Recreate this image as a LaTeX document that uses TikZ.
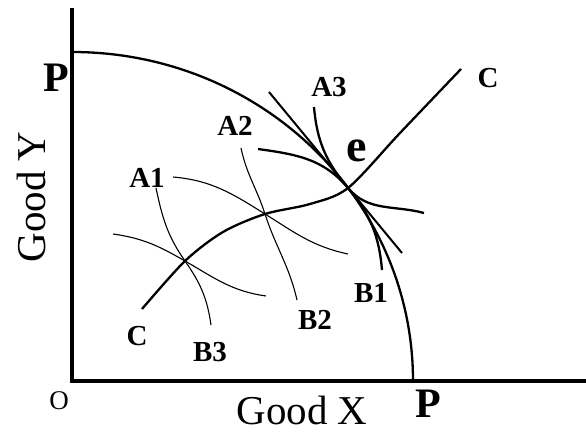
\documentclass[tikz,border=0pt]{standalone}
\usepackage{fontspec}
\setmainfont{Liberation Serif}

\begin{document}
\begin{tikzpicture}[x=1pt, y=1pt,
  axis/.style={line width=3.4pt},
  thickcurve/.style={line width=2.3pt},
  thincurve/.style={line width=1.1pt},
  lab/.style={font=\fontsize{29}{29}\selectfont\bfseries, anchor=base, inner sep=0pt},
  biglab/.style={font=\fontsize{42}{42}\selectfont\bfseries, anchor=base, inner sep=0pt},
  axlab/.style={font=\fontsize{41}{41}\selectfont, anchor=base, inner sep=0pt}]
  \useasboundingbox (0,0) rectangle (586,435);
  \coordinate (O) at (72,54);
  \coordinate (ytop) at (72,427);
  \coordinate (xend) at (586,54);
  \coordinate (e) at (348,247);
  \coordinate (m2) at (265,221);
  \coordinate (m1) at (185,174);
  \draw[axis] (ytop) -- (O) -- (xend);
  % production possibility frontier
  \draw[thickcurve] (72,383) arc[start angle=90, end angle=0, x radius=341, y radius=329];
  % price line at e
  \draw[line width=2pt] (269,343) -- (402,182);
  % isoquants
  \draw[thickcurve] (314,328) to[out=-85, in=130] (e) to[out=-50, in=165] (424,222);
  \draw[thickcurve] (258,286) to[out=-8, in=130] (e) to[out=-50, in=95] (382,165);
  \draw[thincurve] (241,287) to[out=-78, in=108] (m2) to[out=-72, in=103] (297,135);
  \draw[thincurve] (173,258) to[out=-5, in=148] (m2) to[out=-32, in=168] (348,181);
  \draw[thincurve] (113,201) to[out=-8, in=150] (m1) to[out=-30, in=172] (266,139);
  \draw[thincurve] (156,247) to[out=-78, in=125] (m1) to[out=-55, in=98] (211,110);
  % contract curve
  \draw[thickcurve] plot[smooth] coordinates {(142,126) (m1) (223,203) (m2) (310,231) (e) (400,302) (461,366)};
  \node[lab] (a1) at (147,247) {A1};
  \node[lab] (a2) at (235,299) {A2};
  \node[lab] (a3) at (329,338) {A3};
  \node[lab] (b1) at (371,132) {B1};
  \node[lab] (b2) at (315,105) {B2};
  \node[lab] (b3) at (210,73) {B3};
  \node[lab] (ctop) at (488,347) {C};
  \node[lab] (cbot) at (137,89) {C};
  \node[biglab, font=\fontsize{46}{46}\selectfont\bfseries] (elab) at (357,273) {e};
  \node[biglab] (py) at (56,343) {P};
  \node[biglab] (px) at (428,17) {P};
  \node[axlab] (gx) at (302,10) {Good X};
  \node[axlab, rotate=90] (gy) at (45,238) {Good Y};
  \node[axlab, font=\fontsize{27}{27}\selectfont] (o) at (59,25) {O};
\end{tikzpicture}
\end{document}
